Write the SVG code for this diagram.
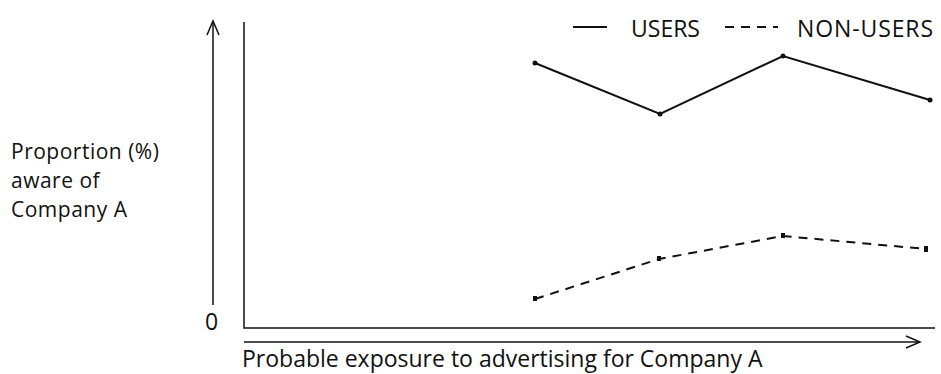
<svg xmlns="http://www.w3.org/2000/svg" width="941" height="374" viewBox="0 0 941 374">
<style>
text{font-family:"Open Sans","Liberation Sans",sans-serif;font-size:23px;fill:#111}
text.yl{font-size:21px;letter-spacing:0.5px}
.ax{stroke:#111;stroke-width:1.5;fill:none}
.s{stroke:#111;stroke-width:2;fill:none}
.d{stroke:#111;stroke-width:2;fill:none;stroke-dasharray:9 7}
.pt{fill:#111}
</style>
<rect width="941" height="374" fill="#fff"/>
<g id="axes">
<line class="ax" x1="213" y1="21" x2="213" y2="305"/>
<path class="ax" d="M207 35 L213 21 L219 35"/>
<path class="ax" d="M244 22 L244 328 L935 328"/>
<line class="ax" x1="244" y1="342" x2="920" y2="342"/>
<path class="ax" d="M906 336 L920 342 L906 348"/>
</g>
<g id="labels">
<text x="205" y="330">0</text>
<text class="yl" x="11" y="159">Proportion (%)</text>
<text class="yl" x="11" y="188">aware of</text>
<text class="yl" x="11" y="217">Company A</text>
<text x="242" y="367">Probable exposure to advertising for Company A</text>
</g>
<g id="legend">
<line class="s" x1="573" y1="27" x2="607" y2="27" stroke-width="1.5"/>
<text x="631" y="37">USERS</text>
<line class="d" x1="725" y1="27" x2="778" y2="27" stroke-dasharray="10 7" stroke-width="1.5"/>
<text x="797" y="37" textLength="136">NON-USERS</text>
</g>
<g id="users">
<polyline class="s" points="535,63 660,114 783,56 930,100"/>
<circle class="pt" cx="535" cy="63" r="2.5"/><circle class="pt" cx="660" cy="114" r="2.5"/><circle class="pt" cx="783" cy="56" r="2.5"/><circle class="pt" cx="930" cy="100" r="2.5"/>
</g>
<g id="non-users">
<polyline class="d" points="535,299 659,259 783,236 926,249"/>
<rect class="pt" x="533" y="296" width="4" height="5"/><rect class="pt" x="657" y="256" width="4" height="5"/><rect class="pt" x="781" y="233" width="4" height="5"/><rect class="pt" x="924" y="246" width="4" height="6"/>
</g>
</svg>
